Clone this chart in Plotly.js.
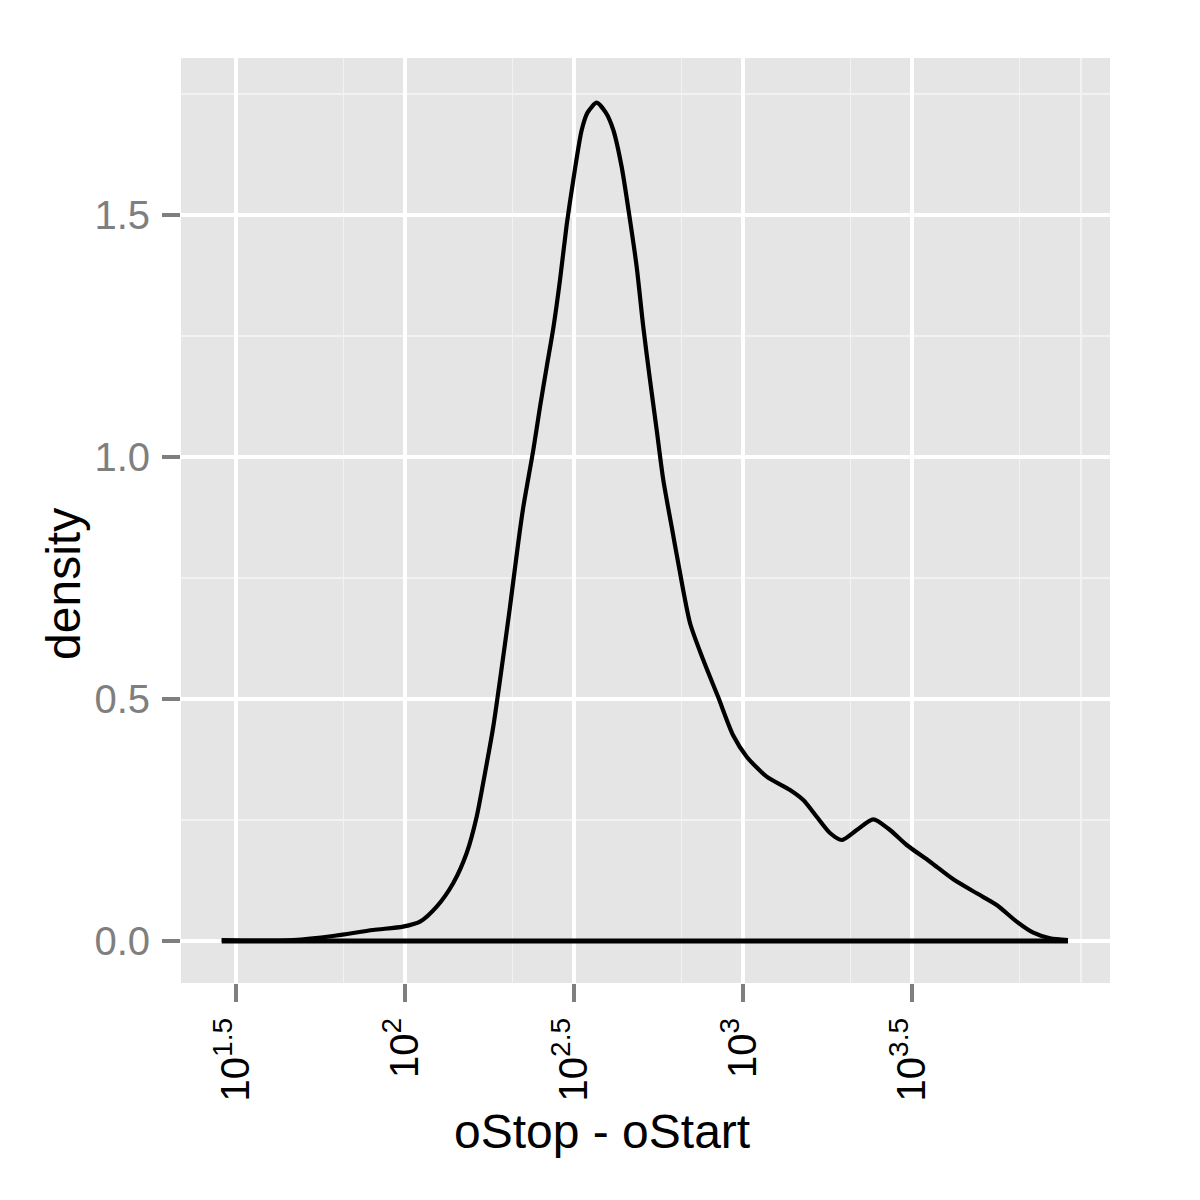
<!DOCTYPE html>
<html>
<head>
<meta charset="utf-8">
<script src="https://cdn.plot.ly/plotly-3.0.1.min.js"></script>
<style>html,body{margin:0;padding:0;background:#fff}</style>
</head>
<body>
<div id="chart" style="width:1200px;height:1200px"></div>
<script>
// log10(oStop - oStart) positions along the density curve
const logLength = [1.4577, 1.571, 1.6686, 1.787, 1.9053, 1.9941, 2.0444, 2.0938, 2.1429, 2.1825,
  2.2121, 2.2367, 2.2612, 2.2811, 2.3107, 2.3352, 2.35, 2.3796, 2.3994, 2.4192,
  2.4388, 2.4586, 2.4784, 2.4979, 2.5228, 2.5404, 2.5672, 2.5937, 2.6163, 2.6411,
  2.6657, 2.6855, 2.7050, 2.7249, 2.7447, 2.7642, 2.7891, 2.8086, 2.8432,
  2.8825, 2.9260, 2.9707, 3.0109, 3.0701, 3.1391, 3.1784, 3.2180, 3.2574, 3.2920,
  3.3364, 3.3855, 3.4349, 3.4843, 3.5533, 3.6222, 3.6914, 3.7506, 3.8098, 3.8589,
  3.9083, 3.9615];
// estimated density values
const density = [0.002, 0.0008, 0.002, 0.0103, 0.0227, 0.0296, 0.0399, 0.0709, 0.1198, 0.1818,
  0.2568, 0.347, 0.4428, 0.5393, 0.6907, 0.8235, 0.8967, 1.0145, 1.1033, 1.186,
  1.2662, 1.3657, 1.4797, 1.5723, 1.6756, 1.712, 1.732, 1.712, 1.6756, 1.5992,
  1.4897, 1.3926, 1.2686, 1.1591, 1.0558, 0.9525, 0.8554, 0.780, 0.657,
  0.5806, 0.505, 0.425, 0.3808, 0.3395, 0.312, 0.2913, 0.2568, 0.2231, 0.2087,
  0.2293, 0.2514, 0.2293, 0.1983, 0.1638, 0.1275, 0.0986, 0.0744, 0.0399, 0.0171,
  0.0056, 0.002];

const xTickVals = [1.5, 2, 2.5, 3, 3.5];
const xTickText = ['10<sup>1.5</sup>', '10<sup>2</sup>', '10<sup>2.5</sup>', '10<sup>3</sup>', '10<sup>3.5</sup>'];
const xMinorVals = [1.818, 2.318, 2.818, 3.318, 3.818, 4.0];
const yTickVals = [0, 0.5, 1.0, 1.5];
const yTickText = ['0.0', '0.5', '1.0', '1.5'];
const yMinorVals = [0.25, 0.75, 1.25, 1.75];
const xRange = [1.3373, 4.0858];
const yRange = [-0.0868, 1.8244];
const xTitle = 'oStop - oStart';
const yTitle = 'density';

const FONT = '"Liberation Sans", Arial, Helvetica, sans-serif';

const traces = [
  {
    type: 'scatter', mode: 'lines',
    x: [logLength[0], logLength[logLength.length - 1]],
    y: [0, 0],
    line: {color: '#000000', width: 5},
    hoverinfo: 'skip', showlegend: false
  },
  {
    type: 'scatter', mode: 'lines',
    x: logLength, y: density,
    line: {color: '#000000', width: 4.2, shape: 'spline', smoothing: 0.7},
    showlegend: false
  }
];

const layout = {
  width: 1200, height: 1200,
  margin: {l: 181, r: 90, t: 58, b: 217, pad: 0},
  paper_bgcolor: '#FFFFFF',
  plot_bgcolor: '#E5E5E5',
  font: {family: FONT, color: '#000000'},
  showlegend: false,
  xaxis: {
    range: xRange, fixedrange: true,
    tickmode: 'array', tickvals: xTickVals, ticktext: xTickText,
    tickangle: -90,
    tickfont: {family: FONT, size: 40, color: '#000000'},
    ticks: 'outside', ticklen: 18, tickwidth: 3.5, tickcolor: '#7F7F7F',
    showgrid: true, gridcolor: '#FFFFFF', gridwidth: 3.5,
    minor: {tickmode: 'array', tickvals: xMinorVals, showgrid: true, gridcolor: '#F2F2F2', gridwidth: 1.8, ticks: ''},
    zeroline: false, showline: false
  },
  yaxis: {
    range: yRange, fixedrange: true,
    tickmode: 'array', tickvals: yTickVals, ticktext: yTickText,
    tickfont: {family: FONT, size: 40, color: '#7F7F7F'},
    ticks: 'outside', ticklen: 18, tickwidth: 3.5, tickcolor: '#7F7F7F',
    ticklabelstandoff: 4,
    showgrid: true, gridcolor: '#FFFFFF', gridwidth: 3.5,
    minor: {tickmode: 'array', tickvals: yMinorVals, showgrid: true, gridcolor: '#F2F2F2', gridwidth: 1.8, ticks: ''},
    zeroline: false, showline: false
  },
  annotations: [
    {
      text: xTitle, xref: 'paper', yref: 'paper',
      x: 0.4532, y: -0.161, xanchor: 'center', yanchor: 'middle',
      showarrow: false, font: {family: FONT, size: 48, color: '#000000'}
    },
    {
      text: yTitle, xref: 'paper', yref: 'paper',
      x: -0.126, y: 0.4314, xanchor: 'center', yanchor: 'middle', textangle: -90,
      showarrow: false, font: {family: FONT, size: 48, color: '#000000'}
    }
  ]
};

Plotly.newPlot('chart', traces, layout, {displayModeBar: false, staticPlot: true});
</script>
</body>
</html>
